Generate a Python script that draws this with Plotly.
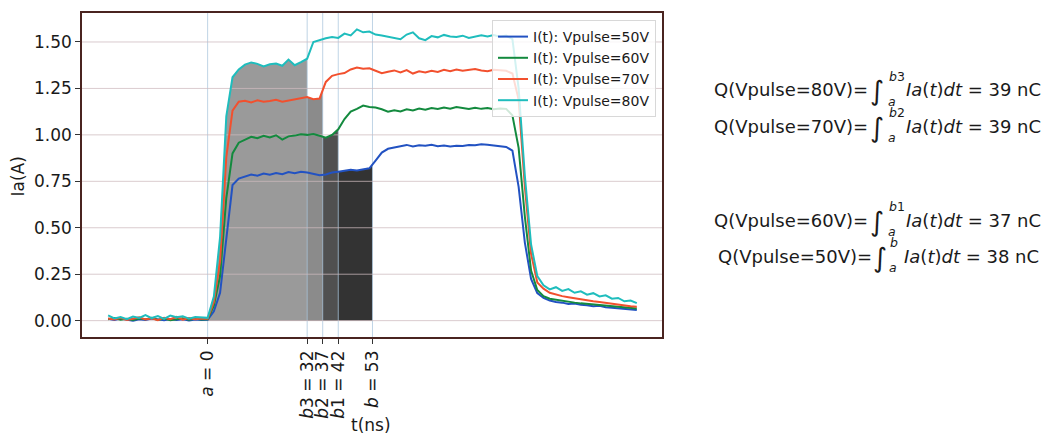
import numpy as np
import plotly.graph_objects as go

# ---------------- data ----------------
t_ns = [-32, -30, -28, -26, -24, -22, -20, -18, -16, -14, -12, -10, -8, -6, -4, -2,
        0, 2, 4, 6, 8, 10, 12, 14, 16, 18, 20, 22, 24, 26, 28, 30,
        32, 34, 36, 38, 40, 42, 44, 46, 48, 50, 52, 54, 56, 58, 60, 62,
        64, 66, 68, 70, 72, 74, 76, 78, 80, 82, 84, 86, 88, 90, 92, 94,
        96, 98, 100, 102, 104, 106, 108, 110, 112, 114, 116, 118, 120, 122, 124, 126,
        128, 130, 132, 134, 136, 138]

ia_50 = [0.010, 0.004, 0.012, 0.006, 0.000, 0.008, 0.003, 0.011, 0.005, 0.002, 0.009, 0.004, 0.007, 0.001, 0.006, 0.003,
         0.005, 0.050, 0.150, 0.450, 0.730, 0.765, 0.778, 0.787, 0.780, 0.792, 0.785, 0.795, 0.788, 0.800, 0.794, 0.802,
         0.797, 0.790, 0.783, 0.787, 0.797, 0.802, 0.805, 0.812, 0.808, 0.815, 0.820, 0.862, 0.905, 0.925, 0.932, 0.940,
         0.946, 0.938, 0.944, 0.941, 0.947, 0.939, 0.943, 0.937, 0.942, 0.940, 0.946, 0.944, 0.950, 0.947, 0.943, 0.940,
         0.935, 0.915, 0.720, 0.420, 0.225, 0.148, 0.122, 0.108, 0.100, 0.097, 0.090, 0.092, 0.085, 0.083, 0.078, 0.080,
         0.072, 0.070, 0.066, 0.063, 0.060, 0.057]

ia_60 = [0.008, 0.014, 0.005, 0.010, 0.003, 0.012, 0.007, 0.015, 0.004, 0.011, 0.002, 0.009, 0.013, 0.005, 0.010, 0.006,
         0.008, 0.080, 0.240, 0.660, 0.900, 0.958, 0.975, 0.990, 0.982, 0.995, 0.986, 0.998, 0.975, 0.992, 0.996, 1.003,
         1.000, 1.004, 0.995, 0.985, 1.000, 1.030, 1.085, 1.125, 1.140, 1.158, 1.150, 1.147, 1.138, 1.125, 1.132, 1.126,
         1.138, 1.131, 1.142, 1.135, 1.144, 1.139, 1.147, 1.141, 1.150, 1.143, 1.139, 1.146, 1.140, 1.144, 1.138, 1.142,
         1.140, 1.105, 0.930, 0.560, 0.270, 0.165, 0.132, 0.118, 0.112, 0.106, 0.101, 0.097, 0.093, 0.090, 0.086, 0.084,
         0.080, 0.077, 0.073, 0.071, 0.067, 0.065]

ia_70 = [0.012, 0.006, 0.015, 0.004, 0.010, 0.018, 0.006, 0.013, 0.003, 0.016, 0.008, 0.020, 0.005, 0.014, 0.007, 0.011,
         0.010, 0.100, 0.320, 0.880, 1.130, 1.178, 1.183, 1.175, 1.186, 1.178, 1.182, 1.189, 1.179, 1.186, 1.193, 1.198,
         1.204, 1.192, 1.196, 1.285, 1.318, 1.327, 1.333, 1.352, 1.362, 1.356, 1.358, 1.345, 1.332, 1.340, 1.347, 1.336,
         1.349, 1.330, 1.342, 1.336, 1.345, 1.339, 1.350, 1.343, 1.352, 1.345, 1.349, 1.354, 1.346, 1.343, 1.350, 1.347,
         1.345, 1.330, 1.190, 0.720, 0.360, 0.205, 0.172, 0.150, 0.140, 0.132, 0.126, 0.120, 0.113, 0.110, 0.104, 0.100,
         0.095, 0.090, 0.086, 0.082, 0.078, 0.075]

ia_80 = [0.028, 0.012, 0.020, 0.008, 0.022, 0.015, 0.030, 0.014, 0.025, 0.010, 0.027, 0.018, 0.024, 0.011, 0.020, 0.016,
         0.015, 0.130, 0.450, 1.100, 1.310, 1.352, 1.378, 1.390, 1.382, 1.368, 1.380, 1.384, 1.372, 1.405, 1.375, 1.392,
         1.410, 1.500, 1.512, 1.520, 1.527, 1.522, 1.545, 1.535, 1.568, 1.552, 1.556, 1.540, 1.535, 1.528, 1.520, 1.515,
         1.540, 1.552, 1.520, 1.510, 1.532, 1.525, 1.538, 1.530, 1.527, 1.534, 1.522, 1.529, 1.536, 1.530, 1.538, 1.528,
         1.534, 1.515, 1.250, 0.780, 0.410, 0.240, 0.190, 0.168, 0.180, 0.160, 0.170, 0.150, 0.158, 0.140, 0.148, 0.130,
         0.136, 0.118, 0.122, 0.104, 0.108, 0.094]

series_names = ["I(t): Vpulse=50V", "I(t): Vpulse=60V", "I(t): Vpulse=70V", "I(t): Vpulse=80V"]
series_vals = [ia_50, ia_60, ia_70, ia_80]
series_colors = ["#2252c2", "#138a3e", "#f2502e", "#1fbdbd"]

# integration limits (ns)
t_a = 0
t_b = [53, 42, 37, 32]           # b, b1, b2, b3 for 50V, 60V, 70V, 80V
fill_colors = ["#333333", "#505050", "#8b8b8b", "#9a9a9a"]

x_tick_vals = [0, 32, 37, 42, 53]
x_tick_text = ["<i>a</i> = 0", "<i>b</i>3 = 32", "<i>b</i>2 = 37", "<i>b</i>1 = 42", "<i>b</i> = 53"]
y_tick_vals = [0.0, 0.25, 0.5, 0.75, 1.0, 1.25, 1.5]

q_labels = ["80V", "70V", "60V", "50V"]
q_limits = ["b3", "b2", "b1", "b"]
q_values = [39, 39, 37, 38]

# ---------------- layout helpers ----------------
W, H = 1042, 435
PL, PR, PT, PB = 82, 662, 13, 337
X_RANGE = [-40.4, 146.1]
Y_RANGE = [-0.088, 1.656]
FONT = "DejaVu Sans"
TXT = "#1a1a1a"


def px(x):
    return (x - PL) / (PR - PL)


def py(y):
    return (PB - y) / (PB - PT)


fig = go.Figure()

t_arr = np.array(t_ns, dtype=float)

# filled integration areas (drawn darkest first)
for vals, tb, fc in zip(series_vals, t_b, fill_colors):
    v = np.array(vals, dtype=float)
    m = (t_arr >= t_a) & (t_arr <= tb)
    vb = float(np.interp(tb, t_arr, v))
    xs = [t_a] + list(t_arr[m]) + [tb, tb]
    ys = [0.0] + list(v[m]) + [vb, 0.0]
    fig.add_trace(go.Scatter(x=xs, y=ys, fill="toself", fillcolor=fc, mode="lines",
                             line=dict(width=0, color=fc), showlegend=False, hoverinfo="skip"))

# grid lines (over fills, under curves)
gx, gy = [], []
for xv in x_tick_vals:
    gx += [xv, xv, None]
    gy += [Y_RANGE[0], Y_RANGE[1], None]
fig.add_trace(go.Scatter(x=gx, y=gy, mode="lines", line=dict(color="rgba(170,198,220,0.75)", width=1),
                         showlegend=False, hoverinfo="skip"))
gx, gy = [], []
for yv in y_tick_vals:
    gx += [X_RANGE[0], X_RANGE[1], None]
    gy += [yv, yv, None]
fig.add_trace(go.Scatter(x=gx, y=gy, mode="lines", line=dict(color="rgba(205,185,190,0.75)", width=1),
                         showlegend=False, hoverinfo="skip"))

# current curves
for name, vals, col in zip(series_names, series_vals, series_colors):
    fig.add_trace(go.Scatter(x=t_ns, y=vals, mode="lines", name=name,
                             line=dict(color=col, width=2)))

annotations = []
# axis titles
annotations.append(dict(xref="paper", yref="paper", x=px(17.5), y=py(177), text="Ia(A)", textangle=-90,
                        showarrow=False, font=dict(family=FONT, size=17, color=TXT),
                        xanchor="center", yanchor="middle"))
annotations.append(dict(xref="paper", yref="paper", x=px(371), y=py(425), text="t(ns)",
                        showarrow=False, font=dict(family=FONT, size=17, color=TXT),
                        xanchor="center", yanchor="middle"))

# charge formulas
line_y = [90, 126.7, 220.7, 256.7]
for lab, lim, qv, ly in zip(q_labels, q_limits, q_values, line_y):
    shift = 3.5 if len(lim) == 1 else 0.0
    annotations.append(dict(xref="paper", yref="paper", x=px(870 + shift), y=py(ly),
                            text=f"Q(Vpulse={lab})=", showarrow=False,
                            font=dict(family=FONT, size=18, color=TXT), xanchor="right", yanchor="middle"))
    annotations.append(dict(xref="paper", yref="paper", x=px(876.5 + shift), y=py(ly + 1),
                            text="∫", showarrow=False,
                            font=dict(family=FONT, size=27, color=TXT), xanchor="center", yanchor="middle"))
    annotations.append(dict(xref="paper", yref="paper", x=px(886.5 + shift * 0.3), y=py(ly - 14),
                            text=f"<i>{lim[0]}</i>{lim[1:]}", showarrow=False,
                            font=dict(family=FONT, size=12.5, color=TXT), xanchor="left", yanchor="middle"))
    annotations.append(dict(xref="paper", yref="paper", x=px(886 + shift * 0.3), y=py(ly + 11),
                            text="<i>a</i>", showarrow=False,
                            font=dict(family=FONT, size=12.5, color=TXT), xanchor="left", yanchor="middle"))
    annotations.append(dict(xref="paper", yref="paper", x=px(904 - 0.6 * shift), y=py(ly),
                            text=f"<i>Ia</i>(<i>t</i>)<i>dt</i> = {qv} nC", showarrow=False,
                            font=dict(family=FONT, size=18, color=TXT), xanchor="left", yanchor="middle"))

fig.update_layout(
    width=W, height=H,
    margin=dict(l=PL, r=W - PR, t=PT, b=H - PB, pad=0),
    paper_bgcolor="white", plot_bgcolor="white",
    font=dict(family=FONT, size=17, color=TXT),
    showlegend=True,
    legend=dict(x=px(656), y=py(20), xanchor="right", yanchor="top",
                bgcolor="rgba(255,255,255,0.8)", bordercolor="#d8d8d8", borderwidth=1,
                font=dict(family=FONT, size=14, color=TXT), tracegroupgap=0),
    annotations=annotations,
)
fig.update_xaxes(range=X_RANGE, showgrid=False, zeroline=False,
                 tickmode="array", tickvals=x_tick_vals, ticktext=x_tick_text, tickangle=-90,
                 ticks="outside", ticklen=5, tickcolor="#333333", tickwidth=1,
                 showline=True, mirror=True, linecolor="#4a2420", linewidth=1.5,
                 tickfont=dict(family=FONT, size=17, color=TXT))
fig.update_yaxes(range=Y_RANGE, showgrid=False, zeroline=False,
                 tickmode="array", tickvals=y_tick_vals, tickformat=".2f",
                 ticks="outside", ticklen=5, tickcolor="#333333", tickwidth=1,
                 showline=True, mirror=True, linecolor="#4a2420", linewidth=1.5,
                 tickfont=dict(family=FONT, size=17, color=TXT))

fig.write_html("out.html", config={"displayModeBar": False},
               post_script="document.body.style.margin='0px';document.body.style.overflow='hidden';")
